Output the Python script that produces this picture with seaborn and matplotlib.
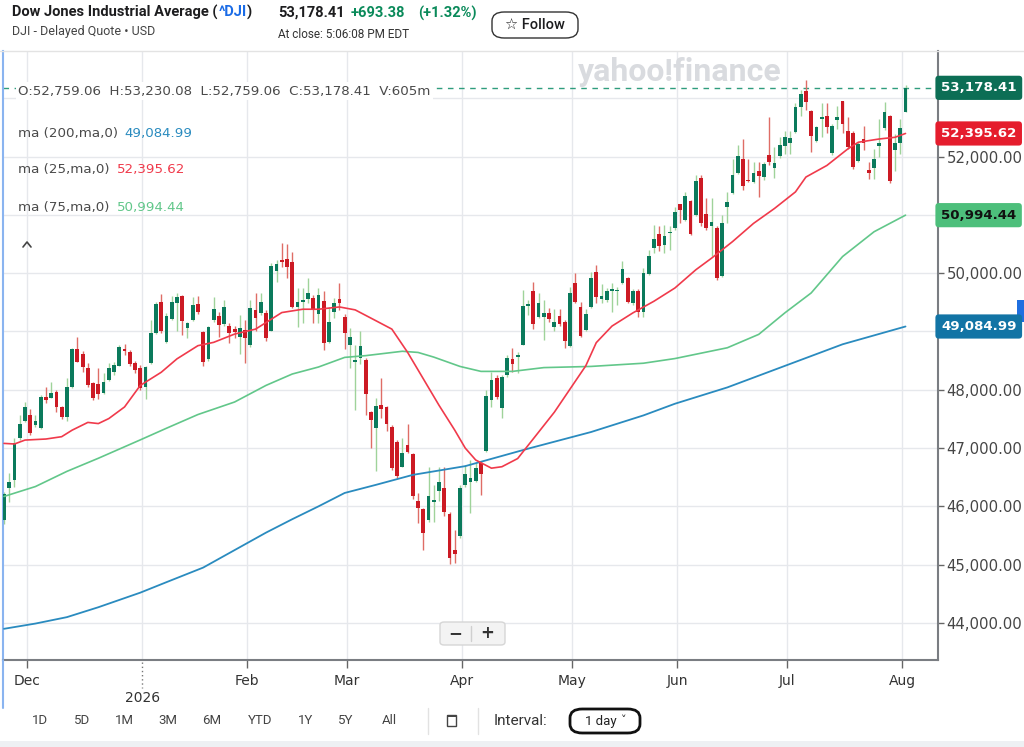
import numpy as np
import pandas as pd
import matplotlib
matplotlib.use("Agg")
import matplotlib.pyplot as plt
import matplotlib.transforms as mtransforms
from matplotlib.patches import FancyBboxPatch, Rectangle
from matplotlib.lines import Line2D
import seaborn as sns

# ---------------- data ----------------
opens = [45770, 46320, 46450, 47170, 47470, 47567, 47400, 47340, 47880, 47865,
         47968, 47710, 47540, 48053, 48700, 48613, 48368, 48111, 48093, 47940,
         48168, 48300, 48413, 48694, 48653, 48453, 48380, 48053, 48453, 48980,
         49510, 48825, 49210, 49494, 49614, 49065, 49197, 49466, 48997, 48522,
         49197, 49265, 49123, 49100, 49037, 48911, 49025, 48768, 49368, 49311,
         49322, 49014, 50042, 50214, 50242, 50185, 49425, 49510, 49551, 49568,
         49300, 49528, 48825, 49340, 49551, 49242, 48768, 48482, 48539, 48511,
         47624, 47339, 47740, 47700, 47368, 47111, 46682, 47053, 46898, 46098,
         45950, 45767, 46070, 46270, 46310, 45870, 45252, 45493, 46367, 46424,
         46440, 46738, 46955, 47825, 48196, 47682, 48253, 48528, 48570, 48768,
         49445, 49699, 49253, 49253, 49322, 49082, 49265, 49167, 48750, 49826,
         49425, 49025, 49425, 50014, 49560, 49539, 49700, 49690, 49836, 49922,
         49482, 49694, 49339, 49980, 50426, 50671, 50483, 50680, 50769, 51180,
         50911, 51237, 50997, 51626, 51009, 50808, 50769, 49951, 51140, 51380,
         51712, 51952, 51590, 51568, 51752, 51654, 52026, 51798, 52009, 52181,
         52237, 52415, 52844, 53124, 52781, 52266, 52645, 52695, 52055, 52626,
         52952, 52443, 52409, 51929, 52295, 51769, 51798, 52181, 52484, 52695,
         52112, 52237, 52759.06]
highs = [46250, 46567, 47168, 47567, 47796, 47664, 47567, 47910, 48053, 48139,
         47990, 47720, 48196, 48720, 48900, 48670, 48453, 48139, 48368, 48282,
         48453, 48482, 48768, 48790, 48680, 48500, 48420, 48400, 49200, 49510,
         49640, 49310, 49600, 49654, 49630, 49170, 49597, 49614, 49010, 49100,
         49597, 49340, 49540, 49140, 49090, 49282, 49197, 49540, 49654, 49654,
         49370, 50170, 50225, 50511, 50500, 50370, 49740, 49740, 49911, 49620,
         49740, 49700, 49420, 49570, 49826, 49300, 49054, 48768, 49000, 48540,
         47640, 47854, 48207, 47720, 47390, 47130, 47168, 47413, 46920, 46224,
         45980, 46682, 46367, 46682, 46682, 45900, 45600, 46367, 46710, 46796,
         46740, 46770, 48000, 48310, 48250, 48253, 48596, 48711, 48650, 49711,
         49539, 49853, 49654, 49539, 49400, 49380, 49380, 49200, 49757, 49997,
         49500, 49380, 50014, 50140, 49820, 49750, 49826, 49768, 50200, 49940,
         49730, 49720, 50080, 50390, 50825, 50800, 50830, 50800, 51140, 51190,
         51400, 51260, 51680, 51680, 51290, 51290, 50800, 51000, 51400, 51950,
         52200, 52300, 51950, 51900, 51900, 51900, 52683, 52169, 52340, 52430,
         52430, 52912, 53140, 53312, 52800, 52520, 52913, 52913, 52550, 52870,
         52960, 52670, 52430, 52250, 52523, 51900, 52123, 52650, 52940, 52720,
         52380, 52650, 53230.08]
lows = [45700, 46081, 46338, 47139, 47440, 47225, 47367, 47320, 47768, 47854,
        47624, 47493, 47467, 48030, 48470, 48310, 48053, 47825, 47837, 47930,
        48150, 48253, 48400, 48596, 48400, 48280, 48000, 47850, 48440, 48960,
        48970, 48800, 49190, 49000, 48940, 48880, 49180, 49300, 48410, 48500,
        49170, 48900, 49100, 48800, 48890, 48614, 48465, 48740, 49000, 49280,
        48830, 49000, 49854, 50111, 49911, 49400, 49082, 49140, 49480, 49140,
        49140, 48680, 48800, 49230, 49368, 48700, 48368, 47653, 48440, 47567,
        47000, 46600, 47510, 47300, 46630, 46480, 46670, 46920, 46130, 45710,
        45247, 45740, 45740, 46100, 45830, 45020, 45024, 45460, 46340, 45880,
        46420, 46195, 46940, 47700, 47850, 47511, 48224, 48310, 48290, 48760,
        49282, 49037, 49230, 48853, 49170, 49000, 49090, 48711, 48730, 49480,
        48900, 49000, 49400, 49483, 49480, 49500, 49340, 49454, 49820, 49490,
        49450, 49250, 49250, 49960, 50340, 50380, 50340, 50400, 50740, 50860,
        50890, 50650, 50980, 50800, 50740, 50300, 49890, 49930, 50855, 51360,
        51700, 51430, 51560, 51540, 51300, 51600, 51860, 51626, 51980, 52050,
        52050, 52400, 52700, 52798, 52083, 52250, 52340, 52400, 52030, 52480,
        52400, 52130, 51780, 51910, 52110, 51610, 51620, 52000, 52460, 51550,
        51750, 52050, 52759.06]
closes = [46220, 46424, 47082, 47413, 47710, 47253, 47465, 47880, 47825, 47940,
          47710, 47527, 48053, 48700, 48482, 48396, 48082, 47854, 47928, 48133,
          48368, 48425, 48739, 48671, 48436, 48339, 48036, 48390, 48980, 49470,
          49000, 49270, 49510, 49597, 49185, 49140, 49449, 49340, 48471, 49082,
          49385, 49111, 49414, 48980, 48997, 49065, 48882, 49397, 49225, 49511,
          48882, 50123, 50152, 50197, 50100, 49425, 49511, 49530, 49654, 49368,
          49625, 48797, 49168, 49483, 49483, 48968, 48900, 48511, 48751, 47928,
          47482, 47722, 47670, 47408, 46654, 46528, 46922, 46939, 46183, 45978,
          45539, 46183, 46110, 46424, 45910, 45110, 45184, 46310, 46555, 46493,
          46653, 46555, 47900, 48168, 47882, 48224, 48540, 48442, 48590, 49442,
          49460, 49128, 49493, 49322, 49214, 49167, 49128, 48841, 49654, 49500,
          48922, 49294, 49911, 49585, 49600, 49699, 49720, 49710, 50071, 49511,
          49694, 49339, 50008, 50294, 50585, 50471, 50642, 50700, 51054, 51083,
          51323, 50671, 51580, 50855, 50769, 50871, 49911, 50855, 51214, 51683,
          52015, 51495, 51575, 51723, 51666, 51872, 51912, 51894, 52198, 52340,
          52312, 52844, 53072, 52940, 52352, 52501, 52665, 52512, 52523, 52672,
          52558, 52169, 51826, 52215, 52237, 51723, 51952, 52237, 52758, 51580,
          52237, 52485.03, 53178.41]

# moving averages (candle index, value)
ma200_pos = [0, 6, 12, 18, 26, 31, 38, 42, 46, 50, 55, 60, 65, 71, 78, 82, 88,
             100, 112, 122, 128, 138, 149, 160, 172]
ma200_val = [43900, 43990, 44100, 44270, 44520, 44700, 44950, 45150, 45350, 45550,
             45780, 46000, 46230, 46370, 46540, 46600, 46690, 46990, 47275, 47560,
             47760, 48040, 48410, 48780, 49084.99]
ma75_pos = [0, 6, 12, 18, 26, 31, 37, 44, 50, 55, 60, 65, 69, 76, 79, 82, 87, 91,
            97, 103, 112, 122, 128, 138, 144, 149, 154, 160, 166, 172]
ma75_val = [46170, 46340, 46600, 46825, 47140, 47340, 47575, 47790, 48075, 48270,
            48390, 48555, 48585, 48660, 48640, 48560, 48400, 48315, 48315, 48380,
            48400, 48455, 48535, 48720, 48950, 49320, 49660, 50285, 50710, 50994.44]
ma25_pos = [0, 2, 4, 8, 11, 13, 16, 18, 20, 23, 26, 30, 33, 37, 40, 44, 48, 50, 53,
            57, 60, 64, 67, 71, 74, 77, 80, 83, 86, 88, 90, 93, 95, 98, 101, 105,
            108, 111, 113, 116, 120, 124, 128, 132, 135, 139, 143, 147, 151, 153,
            157, 161, 163, 167, 170, 172]
ma25_val = [47080, 47070, 47137, 47155, 47195, 47307, 47440, 47420, 47506, 47705,
            48074, 48300, 48530, 48756, 48813, 48955, 49040, 49153, 49324, 49381,
            49381, 49420, 49370, 49182, 49040, 48642, 48188, 47733, 47307, 47000,
            46795, 46655, 46680, 46820, 47160, 47615, 48013, 48411, 48808, 49092,
            49319, 49518, 49745, 50058, 50257, 50541, 50853, 51109, 51393, 51648,
            51847, 52131, 52245, 52301, 52330, 52395.62]

ma_labels = ["ma (200,ma,0)", "ma (25,ma,0)", "ma (75,ma,0)"]
ma_last = [49084.99, 52395.62, 50994.44]
month_names = ["Dec", "2026", "Feb", "Mar", "Apr", "May", "Jun", "Jul", "Aug"]
ytick_vals = [44000, 45000, 46000, 47000, 48000, 49000, 50000, 51000, 52000, 53000]
hidden_yticks = [49000, 51000, 53000]   # covered by value tags in the reference
market_holidays = ["2025-11-27", "2025-12-25", "2026-01-01", "2026-01-19",
                   "2026-02-16", "2026-04-03", "2026-05-25", "2026-06-19", "2026-07-03"]
range_buttons = ["1D", "5D", "1M", "3M", "6M", "YTD", "1Y", "5Y", "All"]

# ---------------- build frame ----------------
days = pd.bdate_range("2025-11-21", "2026-08-03")
days = days[~days.isin(pd.to_datetime(market_holidays))]
df = pd.DataFrame({"date": days[:len(closes)], "open": opens, "high": highs,
                   "low": lows, "close": closes})
df["pos"] = np.arange(len(df))
df["up"] = df["close"] >= df["open"]
month_first = df.groupby(df["date"].dt.to_period("M"))["pos"].min()
month_first = month_first[month_first > 0].values
tick_pos = month_first - 0.6

# ---------------- style ----------------
sns.set_theme(style="white")
plt.rcParams["font.family"] = ["DejaVu Sans"]
HDR = ["Roboto", "DejaVu Sans"]

UP, DOWN = "#0b7a5c", "#cc1a24"
UPW, DOWNW = "#9fd39a", "#df6d66"
C200, C25, C75 = "#2a8bbf", "#f03a4b", "#62c78a"

W, H = 1024, 747
fig = plt.figure(figsize=(W / 100, H / 100), dpi=100)
fig.patch.set_facecolor("white")
fx = lambda x: x / W
fy = lambda y: 1 - y / H

ax = fig.add_axes([fx(3), fy(660), (938 - 3) / W, (660 - 51) / H])
ax.set_facecolor("white")

# candles
body_lo = np.minimum(df["open"], df["close"])
body_h = np.maximum(np.abs(df["close"] - df["open"]), 25)
ax.vlines(df["pos"], df["low"], df["high"],
          colors=np.where(df["up"], UPW, DOWNW), lw=1.0, zorder=2)
ax.bar(df["pos"], body_h, bottom=body_lo, width=0.72,
       color=np.where(df["up"], UP, DOWN), lw=0, zorder=3)

# moving averages
sns.lineplot(x=ma200_pos, y=ma200_val, ax=ax, color=C200, lw=1.3, estimator=None, zorder=4)
sns.lineplot(x=ma75_pos, y=ma75_val, ax=ax, color=C75, lw=1.2, estimator=None, zorder=4)
sns.lineplot(x=ma25_pos, y=ma25_val, ax=ax, color=C25, lw=1.2, estimator=None, zorder=4)

ax.axhline(closes[-1], color="#2f9d7d", lw=1, ls=(0, (4, 4)), zorder=1)

ax.set_xlim(-0.19, 178.2)
ax.set_ylim(43365, 53810)
ax.set_xlabel("")
ax.set_ylabel("")

ax.set_xticks(tick_pos)
ax.set_xticklabels([m if i != 1 else "" for i, m in enumerate(month_names)])
ax.yaxis.tick_right()
ax.set_yticks(ytick_vals)
ax.set_yticklabels(["" if v in hidden_yticks else f"{v:,.2f}" for v in ytick_vals])
ax.grid(True, color="#e6e8ec", lw=1)
ax.set_axisbelow(True)
ax.tick_params(axis="y", right=True, left=False, length=4, width=1, color="#666",
               pad=2, labelsize=10.7, labelcolor="#464646")
ax.tick_params(axis="x", bottom=True, length=6, width=1, color="#666", pad=4,
               labelsize=10, labelcolor="#333")
ax.xaxis.get_major_ticks()[1].tick1line.set_visible(False)
ax.spines["top"].set_visible(False)
ax.spines["left"].set_color("#8ab4f0")
ax.spines["left"].set_linewidth(1.5)
for s in ["right", "bottom"]:
    ax.spines[s].set_color("#7a7d82")
    ax.spines[s].set_linewidth(1.5)

# Jan "2026" label with dotted tick
jt = mtransforms.blended_transform_factory(ax.transData, fig.transFigure)
fig.text(tick_pos[1], fy(698), month_names[1], transform=jt, ha="center", va="center",
         fontsize=10, color="#333")
fig.add_artist(Line2D([tick_pos[1], tick_pos[1]], [fy(662), fy(688)], transform=jt,
                      color="#777", lw=1, ls=(0, (1, 2))))

# right-side value boxes
bt = mtransforms.blended_transform_factory(fig.transFigure, ax.transData)
for val, fc, tc in [(ma_last[0], "#1274a5", "white"), (ma_last[2], "#4dbf7b", "#111"),
                    (ma_last[1], "#e51d2d", "white"), (closes[-1], "#0c6e55", "white")]:
    fig.text(fx(941), val, f"{val:,.2f}", transform=bt, ha="left", va="center",
             fontsize=9.6, fontweight="bold", color=tc,
             bbox=dict(boxstyle="round,pad=0.42,rounding_size=0.25", fc=fc, ec="none"))
fig.add_artist(Rectangle((fx(1017), fy(322)), fx(7), 22 / H, transform=fig.transFigure,
                         fc="#1f6fe0", ec="none"))

# overlay texts on chart
fig.text(fx(18), fy(91), "O:52,759.06  H:53,230.08  L:52,759.06  C:53,178.41  V:605m",
         fontsize=9.6, color="#4a4a4a", va="center",
         bbox=dict(fc="white", ec="none", pad=1.5))
ma_cols = [C200, C25, C75]
ma_y = [133, 170, 207]
ma_vx = [124, 117, 117]
for lab, v, c, yy, vx in zip(ma_labels, ma_last, ma_cols, ma_y, ma_vx):
    fig.text(fx(18), fy(yy), lab, fontsize=9.6, color="#4a4a4a", va="center")
    fig.text(fx(vx), fy(yy), f"{v:,.2f}", fontsize=9.6, color=c, va="center")
fig.add_artist(Line2D([fx(23), fx(27), fx(31)], [fy(247), fy(242), fy(247)],
                      transform=fig.transFigure, color="#444", lw=1.2))
fig.text(fx(680), fy(72), "yahoo!finance", fontsize=23, fontweight="bold",
         family=HDR, color="#d9dbdf", ha="center", va="center")

# zoom buttons
fig.add_artist(FancyBboxPatch((fx(440), fy(645)), fx(65), 23 / H,
                              boxstyle="round,pad=0,rounding_size=0.004",
                              transform=fig.transFigure, fc="#f3f3f3", ec="#d6d6d6", lw=1))
fig.add_artist(Line2D([fx(471), fx(471)], [fy(626), fy(641)], transform=fig.transFigure,
                      color="#cfcfcf", lw=1))
fig.text(fx(455), fy(633), "\u2212", fontsize=12, fontweight="bold", color="#333",
         ha="center", va="center")
fig.text(fx(487), fy(633), "+", fontsize=12, fontweight="bold", color="#333",
         ha="center", va="center")

# ---------------- header ----------------
fig.add_artist(Line2D([0, 1], [fy(51), fy(51)], transform=fig.transFigure,
                      color="#e3e3e3", lw=1))
fig.text(fx(12), fy(12), "Dow Jones Industrial Average (", fontsize=10.5, family=HDR,
         fontweight="semibold", color="#1d1d1f", va="center")
fig.text(fx(219), fy(12), "^DJI", fontsize=10.5, fontweight="semibold", family=HDR,
         color="#1a6be6", va="center")
fig.text(fx(247), fy(12), ")", fontsize=10.5, fontweight="semibold", family=HDR,
         color="#1d1d1f", va="center")
fig.text(fx(12), fy(31), "DJI - Delayed Quote \u2022 USD", fontsize=9, family=HDR,
         color="#444", va="center")
fig.text(fx(278), fy(13), "53,178.41", fontsize=10.5, fontweight="semibold", family=HDR,
         color="#1d1d1f", va="center")
fig.text(fx(351), fy(13), "+693.38", fontsize=10.5, fontweight="semibold", family=HDR,
         color="#0a8a5a", va="center")
fig.text(fx(418), fy(13), "(+1.32%)", fontsize=10.5, fontweight="semibold", family=HDR,
         color="#0a8a5a", va="center")
fig.text(fx(278), fy(35), "At close: 5:06:08 PM EDT", fontsize=8.5, family=HDR,
         color="#333", va="center")
fig.add_artist(FancyBboxPatch((fx(492), fy(38)), fx(86), 26 / H,
                              boxstyle="round,pad=0,rounding_size=0.012",
                              transform=fig.transFigure, fc="white", ec="#333", lw=1))
fig.text(fx(535), fy(25), "\u2606 Follow", fontsize=10.5, fontweight="medium", family=HDR,
         color="#1d1d1f", ha="center", va="center")

# ---------------- footer toolbar ----------------
for lab, xx in zip(range_buttons, [40, 82, 124, 168, 212, 260, 306, 346, 389]):
    fig.text(fx(xx), fy(721), lab, fontsize=9.5, family=HDR, color="#444",
             ha="center", va="center")
for xx in [428, 478]:
    fig.add_artist(Line2D([fx(xx), fx(xx)], [fy(708), fy(734)], transform=fig.transFigure,
                          color="#e2e2e2", lw=1))
fig.add_artist(Rectangle((fx(447), fy(726)), fx(9), 11 / H, transform=fig.transFigure,
                         fc="white", ec="#444", lw=1))
fig.add_artist(Rectangle((fx(447), fy(717)), fx(9), 2 / H, transform=fig.transFigure,
                         fc="#444", ec="none"))
fig.text(fx(494), fy(721), "Interval:", fontsize=11, family=HDR, color="#333", va="center")
fig.add_artist(FancyBboxPatch((fx(570), fy(733)), fx(70), 24 / H,
                              boxstyle="round,pad=0,rounding_size=0.012",
                              transform=fig.transFigure, fc="white", ec="#111", lw=2))
fig.text(fx(585), fy(721), "1 day", fontsize=9.5, family=HDR, color="#222", va="center")
fig.text(fx(621), fy(720), "\u02c5", fontsize=8, color="#222", va="center")
fig.add_artist(Rectangle((0, 0), 1, 6 / H, transform=fig.transFigure,
                         fc="#eef0f3", ec="none"))
fig.add_artist(Line2D([fx(3), fx(3)], [fy(660), fy(708)], transform=fig.transFigure,
                      color="#8ab4f0", lw=1.5))

fig.savefig("out.png", dpi=100)
